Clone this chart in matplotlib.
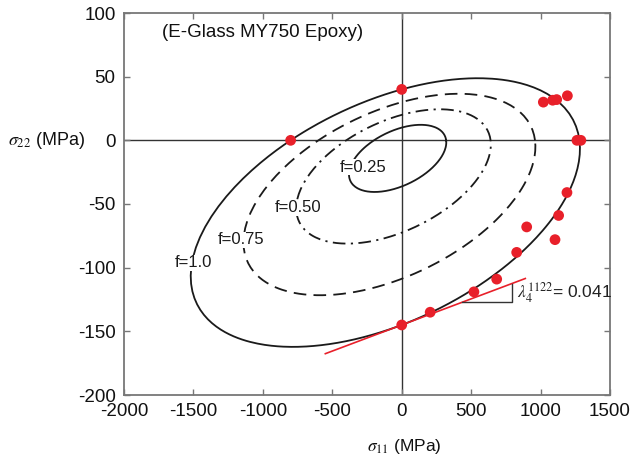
import numpy as np
import matplotlib
matplotlib.use('Agg')
import matplotlib.pyplot as plt
import matplotlib.transforms as mtransforms

plt.rcParams['font.family'] = ['Liberation Sans', 'DejaVu Sans']
plt.rcParams['mathtext.fontset'] = 'stix'
plt.rcParams['axes.unicode_minus'] = False

# Tsai-Wu strengths of E-Glass/MY750 epoxy (MPa) and interaction term
Xt, Xc, Yt, Yc = 1280.0, 800.0, 40.0, 145.0
F12_star = -0.475

# envelope levels
f_levels = [1.0, 0.75, 0.50, 0.25]
f_labels = ['f=1.0', 'f=0.75', 'f=0.50', 'f=0.25']
f_styles = ['-', (0, (7, 4)), (0, (7, 3, 1.2, 3)), '-']
label_x = [-1500, -1160, -745, -280]
label_y = [-96, -78, -53, -21]

# experimental failure points (MPa)
exp_s11 = [-800, 0, 0, 205, 520, 684, 828, 900, 1104, 1130, 1190,
           1262, 1290, 1020, 1087, 1116, 1193]
exp_s22 = [0, 40, -145, -135, -119, -109, -88, -68, -78, -59, -41,
           0, 0, 30, 31.5, 32, 35]

# tangent at uniaxial transverse compression point
tangent_x = [-550, 890]
tangent_slope = 0.041
tangent_intercept = -145.0
triangle_x = [432, 792]

x_ticks = [-2000, -1500, -1000, -500, 0, 500, 1000, 1500]
y_ticks = [-200, -150, -100, -50, 0, 50, 100]

# Tsai-Wu coefficients
F1 = 1 / Xt - 1 / Xc
F11 = 1 / (Xt * Xc)
F2 = 1 / Yt - 1 / Yc
F22 = 1 / (Yt * Yc)
F12 = F12_star * np.sqrt(F11 * F22)

theta = np.linspace(0, 2 * np.pi, 1441)
c, s = np.cos(theta), np.sin(theta)
A = F11 * c**2 + F22 * s**2 + 2 * F12 * c * s
B = F1 * c + F2 * s
r = (-B + np.sqrt(B**2 + 4 * A)) / (2 * A)
env_x, env_y = r * c, r * s

fig = plt.figure(figsize=(6.33, 4.62), dpi=100)
ax = fig.add_axes([124 / 633, 1 - 395 / 462, 486 / 633, 382 / 462])

ax.axhline(0, color='#333333', lw=1.0, zorder=1)
ax.axvline(0, color='#333333', lw=1.0, zorder=1)

for f, ls in zip(f_levels, f_styles):
    ax.plot(f * env_x, f * env_y, color='#1a1a1a', lw=1.3, linestyle=ls, zorder=2)

for lx, ly, lab in zip(label_x, label_y, f_labels):
    ax.text(lx, ly, lab, ha='center', va='center', fontsize=12, color='#1a1a1a',
            bbox=dict(fc='white', ec='none', pad=0.4), zorder=4)

tx = np.array(tangent_x, dtype=float)
ax.plot(tx, tangent_intercept + tangent_slope * tx, color='#e8202a', lw=1.2, zorder=3)

tri_y0 = tangent_intercept + tangent_slope * triangle_x[0]
tri_y1 = tangent_intercept + tangent_slope * triangle_x[1]
ax.plot([triangle_x[0], triangle_x[1], triangle_x[1]], [tri_y0, tri_y0, tri_y1],
        color='#333333', lw=1.0, zorder=3)
ax.text(triangle_x[1] + 40, 0.5 * (tri_y0 + tri_y1), r'$\lambda_4^{1122}$= 0.041',
        ha='left', va='center', fontsize=12.5, color='#222222')

ax.scatter(exp_s11, exp_s22, s=60, color='#e8202a', edgecolors='none', zorder=5)

ax.set_xlim(-2000, 1500)
ax.set_ylim(-200, 100)
ax.set_xticks(x_ticks)
ax.set_yticks(y_ticks)
ax.tick_params(direction='in', length=4, width=1.0, color='#777777', labelsize=13.5,
               top=True, right=True, pad=6, labelcolor='#111111')
for sp in ax.spines.values():
    sp.set_color('#777777')
    sp.set_linewidth(1.3)

ax.text(0.0776, 0.948, '(E-Glass MY750 Epoxy)', transform=ax.transAxes,
        ha='left', va='center', fontsize=13.5, color='#111111')

trans_y = mtransforms.blended_transform_factory(ax.transAxes, ax.transData)
ax.text(-0.2387, 0, r'$\sigma_{22}$ (MPa)', transform=trans_y, ha='left', va='center',
        fontsize=13, color='#111111')
ax.text(0.576, -0.134, r'$\sigma_{11}$ (MPa)', transform=ax.transAxes, ha='center',
        va='center', fontsize=12.5, color='#111111')

fig.savefig('out.png', dpi=100)
